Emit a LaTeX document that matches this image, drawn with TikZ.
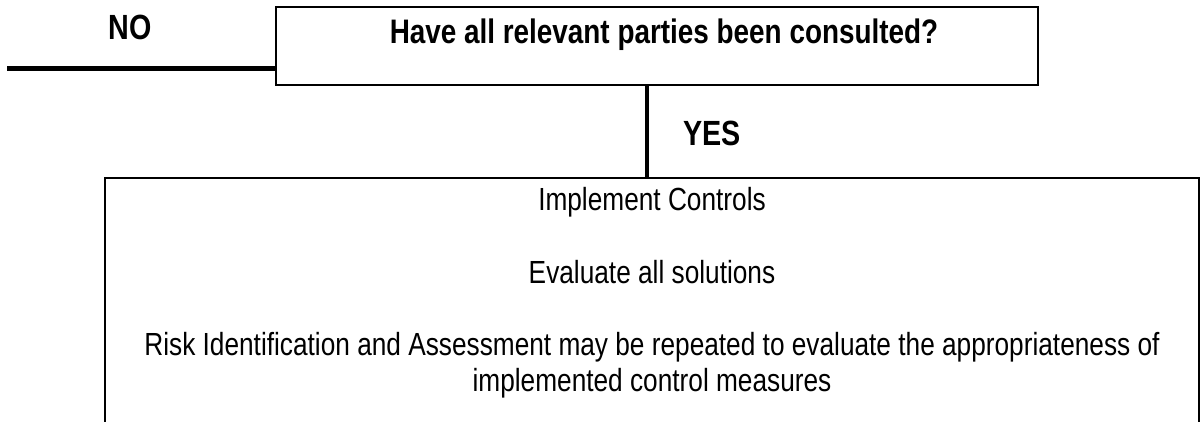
\documentclass[tikz,border=0pt]{standalone}
\usepackage{fontspec}
\setmainfont{Liberation Sans}
\newfontfamily\narrow[FakeStretch=0.82]{Liberation Sans}
\begin{document}
\begin{tikzpicture}[x=1pt,y=-1pt,
  box/.style={draw=black,line width=2pt,inner sep=0pt},
  flow/.style={draw=black,line width=5pt},
  answer/.style={font=\narrow\bfseries\fontsize{35}{40}\selectfont,anchor=base,inner sep=0pt},
  question/.style={font=\narrow\bfseries\fontsize{34}{40}\selectfont,anchor=base,inner sep=0pt},
  body/.style={font=\narrow\fontsize{32}{32}\selectfont,anchor=base,inner sep=0pt}]
  \useasboundingbox (0,0) rectangle (1200,421);
  \clip (0,0) rectangle (1200,421);

  % decision box and the action box below it
  \node[box,minimum width=762pt,minimum height=78pt] (q) at (657,46) {};
  \node[box,minimum width=1094pt,minimum height=300pt] (act) at (652,328) {};

  % texts
  \node[question] (qtext) at (664,43) {Have all relevant parties been consulted?};
  \node[answer] (no) at (130,39) {NO};
  \node[answer] (yes) at (712,145) {YES};
  \node[body] (impl) at (652,210) {Implement Controls};
  \node[body] (eval) at (652,283) {Evaluate all solutions};
  \node[body] (risk1) at (652,355) {Risk Identification and Assessment may be repeated to evaluate the appropriateness of};
  \node[body] (risk2) at (652,391) {implemented control measures};

  % connectors
  \coordinate (noend) at (7,68);
  \coordinate (yesx) at (647,0);
  \draw[flow] (noend) -- (noend -| q.west);
  \draw[line width=4pt] (q.south -| yesx) -- (act.north -| yesx);
\end{tikzpicture}
\end{document}
